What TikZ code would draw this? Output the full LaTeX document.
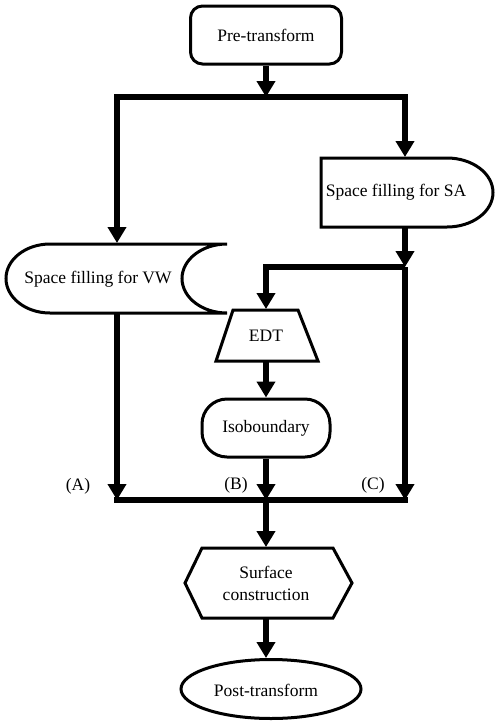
\documentclass[tikz,border=0pt]{standalone}
\usepackage{fontspec}
\setmainfont{Liberation Serif}
\usetikzlibrary{arrows.meta,shapes.geometric}
\begin{document}
\begin{tikzpicture}[x=1pt,y=-1pt,
  font=\fontsize{17.5}{22}\selectfont,
  box/.style={draw,line width=3pt,fill=white,inner sep=0pt},
  shapeline/.style={draw,line width=3pt,fill=white,line join=miter},
  flow/.style={line width=5.5pt},
  arr/.style={flow,-{Triangle[length=16pt 0 0,width=18pt 0 0]}},
  lbl/.style={inner sep=0pt}]
\useasboundingbox (0,0) rectangle (498,724);

% Pre-transform
\node[box,rounded corners=12pt,minimum width=151pt,minimum height=58pt] (pre) at (266,35) {Pre-transform};

% top split
\coordinate (tj) at (266,97);
\coordinate (vwN) at (117,243);
\coordinate (saN) at (405,157);
\draw[arr] (pre.south) -- (tj);
\draw[arr] (tj) -| (vwN);
\draw[arr] (tj) -| (saN);

% Space filling for SA (delay shape)
\path[shapeline] (321,158) -- (447,158) arc[start angle=270,end angle=450,x radius=46,y radius=34.5] -- (321,227) -- cycle;
\node[lbl] (sa) at (396,192) {Space filling for SA};
\coordinate (saS) at (405,227);

% Space filling for VW (stored data shape)
\path[shapeline] (50,244) -- (227,244) arc[start angle=270,end angle=90,x radius=45,y radius=34.5] -- (50,313) arc[start angle=90,end angle=270,x radius=44,y radius=34.5] -- cycle;
\node[lbl] (vw) at (98,279) {Space filling for VW};
\coordinate (vwS) at (117,313);

% EDT
\path[shapeline] (233,310) -- (298,310) -- (318,361) -- (216,361) -- cycle;
\node[lbl] (edt) at (266,336) {EDT};
\coordinate (edtN) at (266,309);
\coordinate (edtS) at (266,361);

% junction right
\coordinate (jr) at (405,267);
\draw[arr] (saS) -- (jr);
\draw[arr] (jr) -| (edtN);

% Isoboundary
\node[box,rounded corners=25pt,minimum width=128pt,minimum height=58pt] (iso) at (266,428) {Isoboundary};
\draw[arr] (edtS) -- (iso.north);

% bottom bar
\coordinate (bl) at (117,500);
\coordinate (bm) at (266,500);
\coordinate (br) at (405,500);
\draw[line width=6pt,line cap=rect] (bl) -- (br);
\draw[arr] (vwS) -- (bl);
\draw[arr] (iso.south) -- (bm);
\draw[arr] (jr) -- (br);
\node[lbl] (la) at (78,486) {(A)};
\node[lbl] (lb) at (236,485) {(B)};
\node[lbl] (lc) at (373,485) {(C)};

% Surface construction (hexagon)
\path[shapeline] (202,548) -- (333,548) -- (352,583) -- (333,618) -- (202,618) -- (185,583) -- cycle;
\node[lbl,align=center] (sc) at (266,583) {Surface\\construction};
\coordinate (scN) at (266,547);
\coordinate (scS) at (266,618);
\draw[arr] (bm) -- (scN);

% Post-transform
\node[box,ellipse,minimum width=180pt,minimum height=59pt] (post) at (271,689) {};
\node[lbl] (postt) at (266,690) {Post-transform};
\coordinate (postN) at (266,658);
\draw[arr] (scS) -- (postN);
\end{tikzpicture}
\end{document}
